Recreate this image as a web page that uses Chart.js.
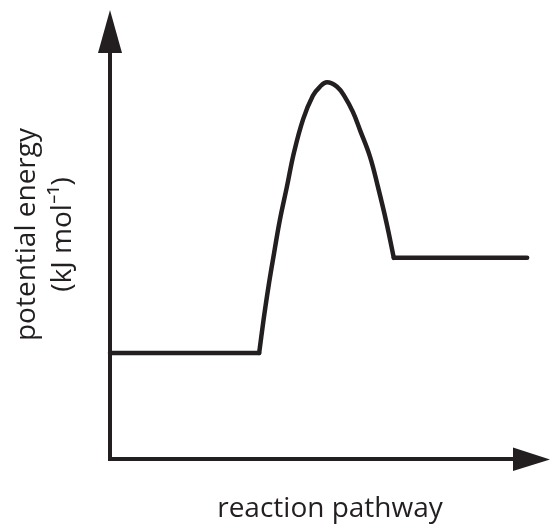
<!DOCTYPE html>
<html>
<head>
<meta charset="utf-8">
<script src="https://cdn.jsdelivr.net/npm/chart.js@4/dist/chart.umd.min.js"></script>
<style>
  html, body { margin: 0; padding: 0; background: #ffffff; }
  canvas { display: block; }
</style>
</head>
<body>
<canvas id="c" width="550" height="524"></canvas>
<script>
// Axis titles
const xTitle = 'reaction pathway';
const yTitle = ['potential energy', '(kJ mol\u207B\u00B9)'];

// Reactant level (flat line)
const reactantX = [0, 33.9];
const reactantY = [23.6, 23.6];

// Activation barrier (curve)
const barrierX = [33.9, 34.9, 36.0, 37.3, 38.6, 40.2, 41.8, 43.9, 46.1, 47.7, 49.3, 51.6, 53.4, 55.2, 56.8, 59.1, 60.9, 62.8, 64.5];
const barrierY = [23.6, 31.0, 38.3, 45.9, 53.2, 60.6, 68.2, 75.7, 80.9, 82.9, 83.9, 82.9, 80.6, 77.3, 73.3, 67.3, 60.6, 52.8, 44.8];

// Product level (flat line)
const productX = [64.5, 94.8];
const productY = [44.8, 44.8];

const INK = '#231f20';
const toPoints = (xs, ys) => xs.map((x, i) => ({ x: x, y: ys[i] }));

const arrowAxes = {
  id: 'arrowAxes',
  beforeDatasetsDraw(chart) {
    const { ctx, chartArea: a } = chart;
    ctx.save();
    ctx.strokeStyle = INK;
    ctx.fillStyle = INK;
    ctx.lineWidth = 4;
    ctx.lineCap = 'butt';
    // y axis line
    ctx.beginPath();
    ctx.moveTo(a.left, a.top + 40);
    ctx.lineTo(a.left, a.bottom + 2);
    ctx.stroke();
    // x axis line
    ctx.beginPath();
    ctx.moveTo(a.left - 2, a.bottom);
    ctx.lineTo(a.right - 35, a.bottom);
    ctx.stroke();
    // y arrow head
    ctx.beginPath();
    ctx.moveTo(a.left, a.top);
    ctx.lineTo(a.left - 12, a.top + 43);
    ctx.lineTo(a.left + 12, a.top + 43);
    ctx.closePath();
    ctx.fill();
    // x arrow head
    ctx.beginPath();
    ctx.moveTo(a.right, a.bottom + 0.5);
    ctx.lineTo(a.right - 37, a.bottom - 11.5);
    ctx.lineTo(a.right - 37, a.bottom + 12);
    ctx.closePath();
    ctx.fill();
    ctx.restore();
  }
};

const lineStyle = {
  showLine: true,
  borderColor: INK,
  backgroundColor: INK,
  borderWidth: 4.5,
  pointRadius: 0,
  pointHoverRadius: 0,
  fill: false,
  borderCapStyle: 'round',
  borderJoinStyle: 'round',
  clip: false
};

new Chart(document.getElementById('c'), {
  type: 'scatter',
  data: {
    datasets: [
      Object.assign({ label: 'reactants', data: toPoints(reactantX, reactantY), tension: 0 }, lineStyle),
      Object.assign({ label: 'barrier', data: toPoints(barrierX, barrierY), tension: 0.4 }, lineStyle),
      Object.assign({ label: 'products', data: toPoints(productX, productY), tension: 0 }, lineStyle)
    ]
  },
  options: {
    responsive: false,
    animation: false,
    devicePixelRatio: 1,
    layout: { padding: { top: 10, right: 0, bottom: 0, left: 0 } },
    plugins: { legend: { display: false }, tooltip: { enabled: false } },
    scales: {
      x: {
        type: 'linear',
        min: 0, max: 100,
        ticks: { display: false },
        grid: { display: false, drawTicks: false },
        border: { display: false },
        title: {
          display: true,
          text: xTitle,
          color: INK,
          font: { family: 'Open Sans', size: 28, lineHeight: '28px' },
          padding: { top: 36, bottom: 1 }
        }
      },
      y: {
        type: 'linear',
        min: 0, max: 100,
        ticks: { display: false },
        grid: { display: false, drawTicks: false },
        border: { display: false },
        title: {
          display: true,
          text: yTitle,
          color: INK,
          font: { family: 'Open Sans', size: 28, lineHeight: '36px' },
          padding: { top: 9, bottom: 29 }
        }
      }
    }
  },
  plugins: [arrowAxes]
});
</script>
</body>
</html>
